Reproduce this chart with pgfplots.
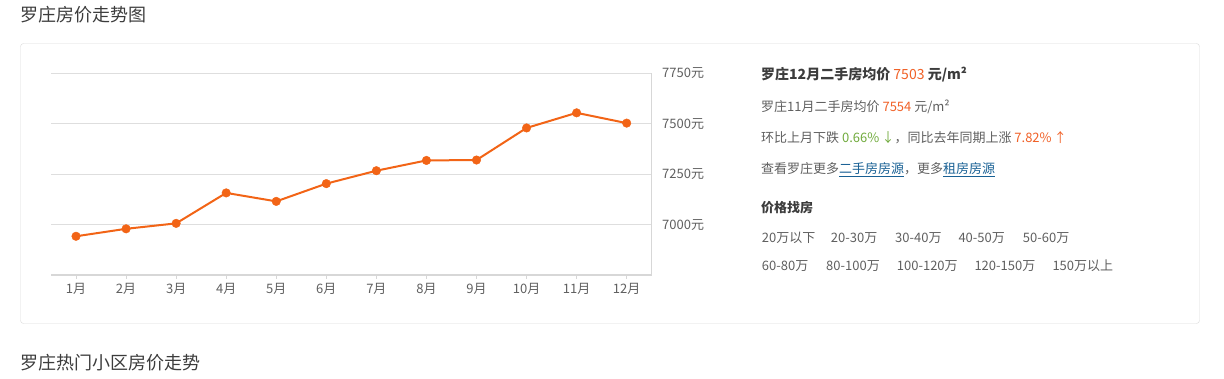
\documentclass[border=0pt]{standalone}
\usepackage{fontspec}
\setmainfont{Noto Sans CJK SC}
\usepackage{pgfplots}
\pgfplotsset{compat=1.18}
\definecolor{txt}{RGB}{95,95,95}
\definecolor{dark}{RGB}{60,60,60}
\definecolor{org}{RGB}{240,96,38}
\definecolor{lineorg}{RGB}{242,100,22}
\definecolor{grn}{RGB}{112,170,60}
\definecolor{lnk}{RGB}{24,96,148}
\definecolor{axgray}{RGB}{215,215,215}
\definecolor{gridgray}{RGB}{222,222,222}
\begin{document}
\begin{tikzpicture}[x=1pt,y=-1pt]
\path[use as bounding box] (0,0) rectangle (1224,379);
% titles
\node[anchor=west,inner sep=0,text=dark,font=\fontsize{18}{21}\selectfont] at (20,15) {罗庄房价走势图};
\node[anchor=west,inner sep=0,text=dark,font=\fontsize{18}{21}\selectfont] at (20,363) {罗庄热门小区房价走势};
% panel box
\draw[draw=black!15, rounded corners=3pt] (20.5,43.5) rectangle (1199.5,323.5);
\begin{axis}[
  at={(51pt,-275pt)}, anchor=south west,
  scale only axis, width=600.7pt, height=201.7pt,
  xmin=0.5, xmax=12.5, ymin=6750, ymax=7750,
  axis x line*=bottom, axis y line*=right,
  axis line style={-},
  x axis line style={draw=axgray, line width=2pt},
  y axis line style={draw=axgray, line width=0.8pt},
  ymajorgrids, grid style={draw=gridgray, line width=0.8pt},
  xtick={1,2,3,4,5,6,7,8,9,10,11,12},
  xticklabels={1月,2月,3月,4月,5月,6月,7月,8月,9月,10月,11月,12月},
  ytick={7000,7250,7500,7750},
  yticklabels={7000元,7250元,7500元,7750元},
  tick align=outside,
  major tick length=4pt,
  x tick style={draw=axgray, line width=0.8pt},
  y tick style={draw=none},
  ticklabel style={font=\fontsize{13}{15}\selectfont, text=txt},
  xticklabel style={yshift=-1pt},
  yticklabel style={anchor=west, xshift=3pt},
  /pgf/number format/assume math mode=true,
  clip=false,
]
\addplot[color=lineorg, line width=2pt, mark=*, mark size=4.3pt, mark options={solid, fill=lineorg, draw=lineorg, line width=0.4pt}]
  coordinates {(1,6942) (2,6979) (3,7006) (4,7157) (5,7115) (6,7203) (7,7267) (8,7318) (9,7320) (10,7479) (11,7554) (12,7503)};
\end{axis}
% right panel
\tikzset{t/.style={anchor=west,inner sep=0,text=txt,font=\fontsize{13}{16}\selectfont}}
\node[t,text=dark,font=\fontsize{14}{17}\selectfont] at (761,75) {\bfseries 罗庄12月二手房均价 \textcolor{org}{\mdseries 7503} 元/m²};
\node[t] at (761,107) {罗庄11月二手房均价 \textcolor{org}{7554} 元/m²};
\node[t] at (761,138) {环比上月下跌 \textcolor{grn}{0.66\%\,↓}，同比去年同期上涨 \textcolor{org}{7.82\%\,↑}};
\node[t] at (761,170) {查看罗庄更多\textcolor{lnk}{\underline{二手房房源}}，更多\textcolor{lnk}{\underline{租房房源}}};
\node[t,text=dark] at (761,208) {\bfseries 价格找房};
\node[t] at (761.7,238) {20万以下};
\node[t] at (830.7,238) {20-30万};
\node[t] at (895,238) {30-40万};
\node[t] at (958.3,238) {40-50万};
\node[t] at (1022.7,238) {50-60万};
\node[t] at (761.7,266) {60-80万};
\node[t] at (826,266) {80-100万};
\node[t] at (896.7,266) {100-120万};
\node[t] at (974.3,266) {120-150万};
\node[t] at (1052.3,266) {150万以上};
\end{tikzpicture}
\end{document}
